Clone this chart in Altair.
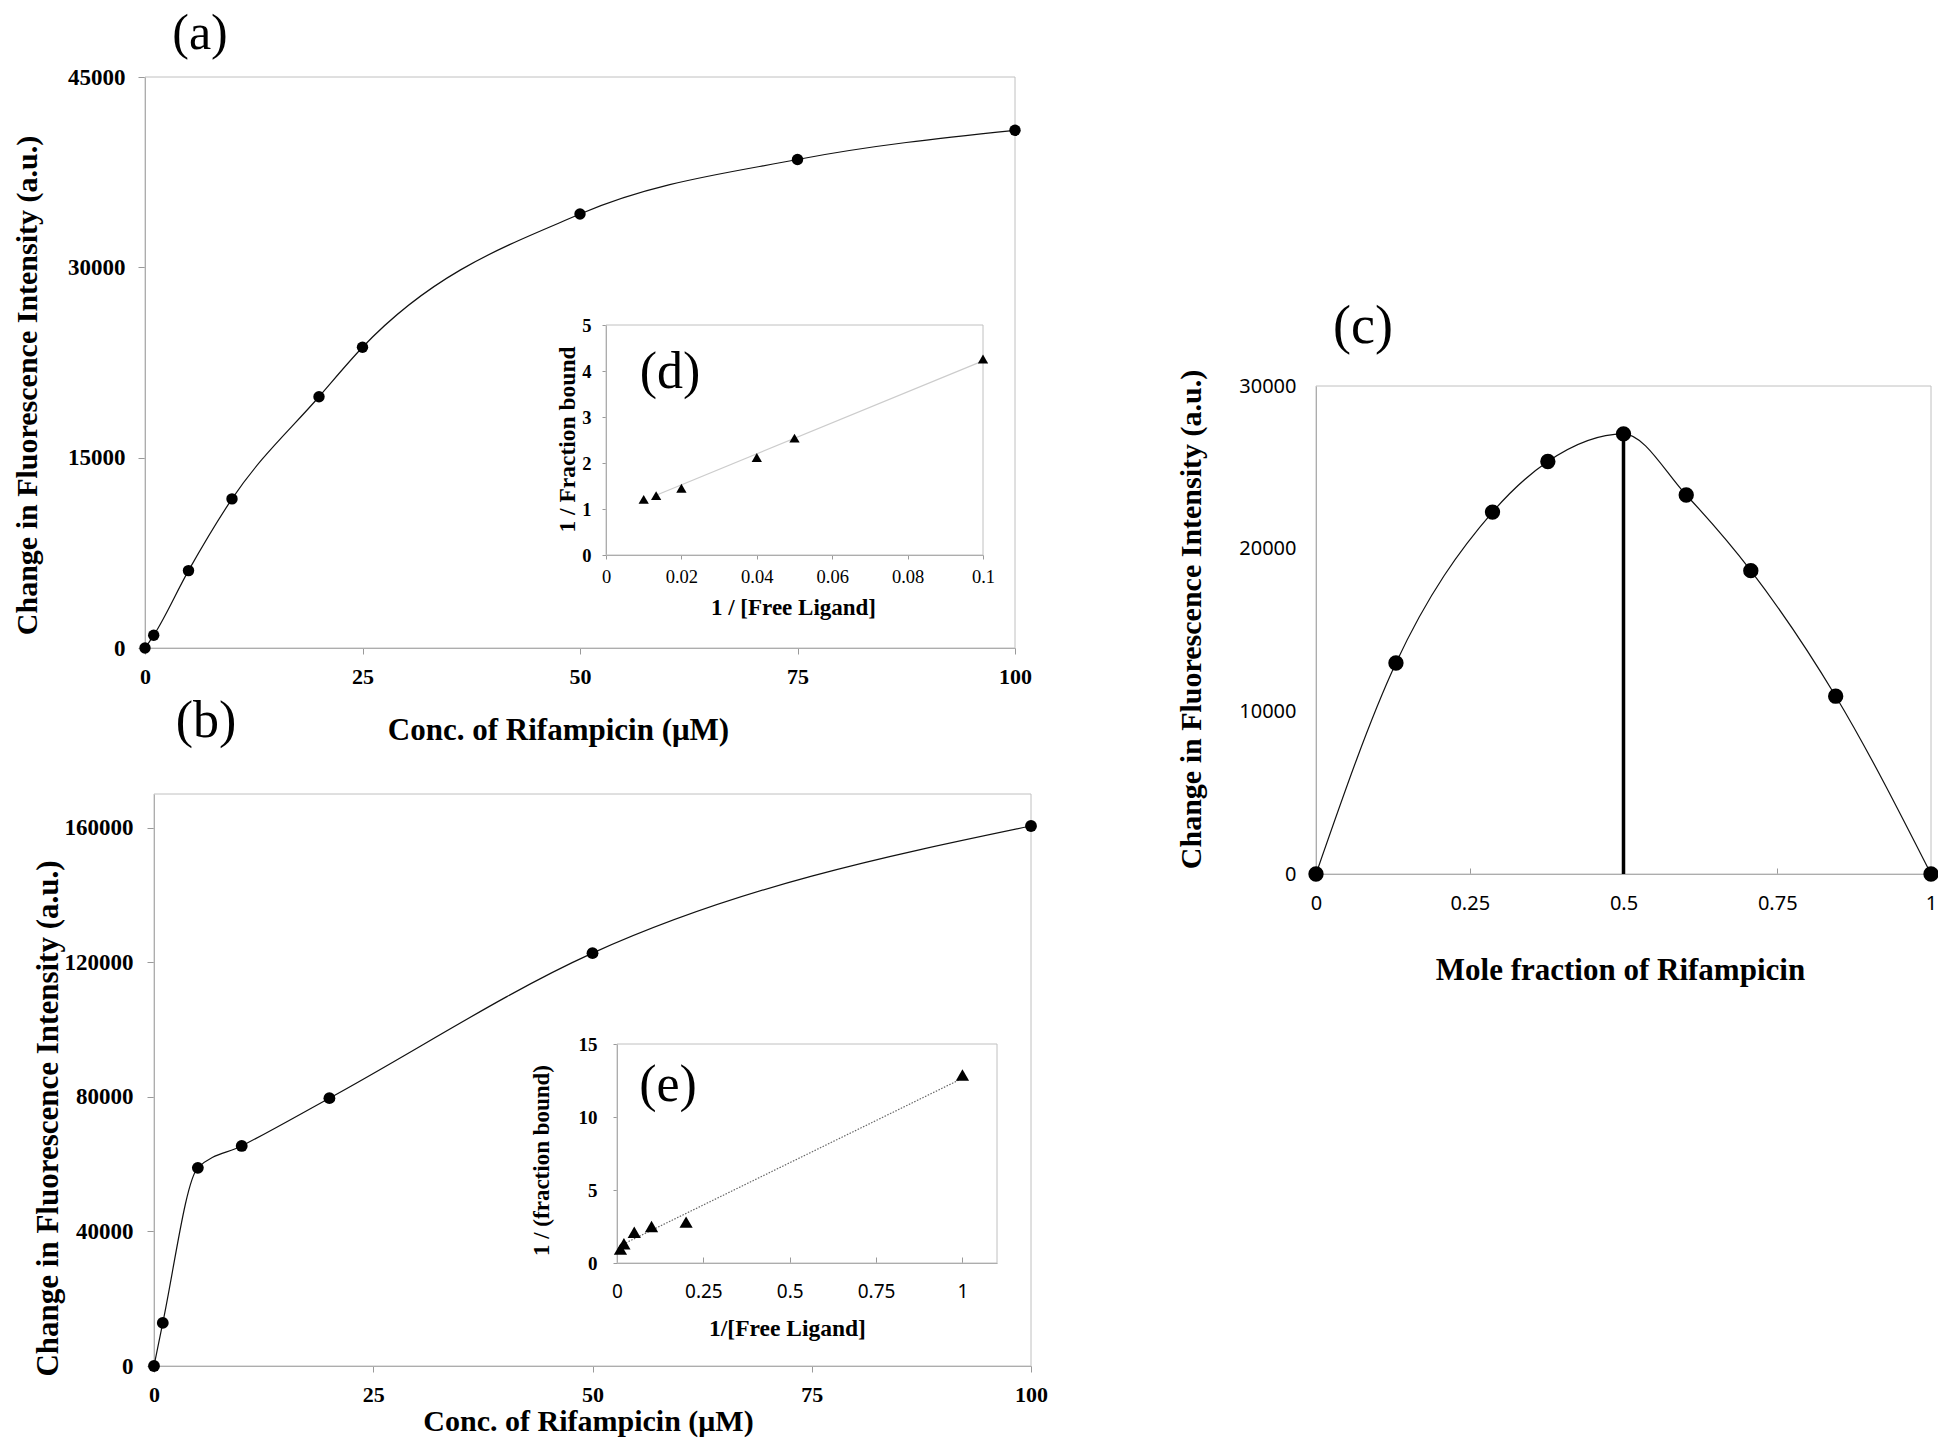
import altair as alt
import pandas as pd

# ---------------- data ----------------
# (a) titration
a_conc = [0, 1, 5, 10, 20, 25, 50, 75, 100]
a_change = [0, 1000, 6100, 11750, 19800, 23700, 34200, 38500, 40800]
# (d) double reciprocal inset of (a)
d_inv_ligand = [0.01, 0.0133, 0.02, 0.04, 0.05, 0.1]
d_inv_bound = [1.21, 1.29, 1.45, 2.12, 2.54, 4.26]
d_fit_x = [0.0133, 0.1]
d_fit_y = [1.30, 4.22]
# (b) titration
b_conc = [0, 1, 5, 10, 20, 50, 100]
b_change = [0, 12800, 58900, 65400, 79600, 122700, 160500]
# (e) double reciprocal inset of (b)
e_inv_ligand = [0.01, 0.02, 0.05, 0.1, 0.2, 1.0]
e_inv_bound = [0.95, 1.32, 2.1, 2.5, 2.8, 12.87]
e_fit_x = [0.01, 1.0]
e_fit_y = [1.2, 12.65]
# (c) Job plot
c_fraction = [0, 0.13, 0.287, 0.377, 0.5, 0.602, 0.707, 0.845, 1]
c_change = [0, 12970, 22250, 25360, 27060, 23300, 18650, 10930, 0]

# axis domains / tick values
a_xdom, a_ydom = [0, 100], [0, 45000]
a_xticks, a_yticks = [0, 25, 50, 75, 100], [0, 15000, 30000, 45000]
d_xdom, d_ydom = [0, 0.1], [0, 5]
d_xticks, d_yticks = [0, 0.02, 0.04, 0.06, 0.08, 0.1], [0, 1, 2, 3, 4, 5]
b_xdom, b_ydom = [0, 100], [0, 170000]
b_xticks, b_yticks = [0, 25, 50, 75, 100], [0, 40000, 80000, 120000, 160000]
e_xdom, e_ydom = [0, 1.1], [0, 15]
e_xticks, e_yticks = [0, 0.25, 0.5, 0.75, 1], [0, 5, 10, 15]
c_xdom, c_ydom = [0, 1], [0, 30000]
c_xticks, c_yticks = [0, 0.25, 0.5, 0.75, 1], [0, 10000, 20000, 30000]

# ---------------- layout (pixels in the view) ----------------
W, H = 1930, 1433
SERIF = "Liberation Serif"
SANS = "Noto Sans"
AX = "#9a9a9a"
FRAME = "#c0c0c0"

BOX_A = (137, 1007, 69, 640)
BOX_D = (598, 975, 317, 547)
BOX_B = (146, 1023, 786, 1358)
BOX_E = (609, 989, 1036, 1255)
BOX_C = (1308, 1923, 378, 866)


def scales(box, xdom, ydom):
    x0, x1, y0, y1 = box
    sx = alt.Scale(domain=xdom, range=[x0, x1], nice=False, zero=False)
    sy = alt.Scale(domain=ydom, range=[y1, y0], nice=False, zero=False)
    return sx, sy


def tick_kw(tick):
    if tick > 0:
        return dict(ticks=True, tickSize=tick, tickColor=AX, tickWidth=1)
    return dict(ticks=False)


def xaxis(box, values, title, title_x, title_dy, lfont, lweight, lsize, tsize, tick, pad, fmt=".2~f"):
    return alt.Axis(
        orient="bottom", offset=box[3] - H, values=values, format=fmt, grid=False,
        labelFont=lfont, labelFontWeight=lweight, labelFontSize=lsize, labelColor="black",
        labelFlush=False, labelOverlap=False, labelPadding=pad,
        domainColor=AX, domainWidth=1,
        title=title, titleFont=SERIF, titleFontWeight="bold", titleFontSize=tsize,
        titleColor="black", titleX=title_x, titleY=title_dy, titleBaseline="middle",
        titleAlign="center", **tick_kw(tick))


def yaxis(box, values, title, title_dx, title_y, lfont, lweight, lsize, tsize, tick, pad, fmt="d"):
    return alt.Axis(
        orient="left", offset=-box[0], values=values, format=fmt, grid=False,
        labelFont=lfont, labelFontWeight=lweight, labelFontSize=lsize, labelColor="black",
        labelFlush=False, labelOverlap=False, labelPadding=pad,
        domainColor=AX, domainWidth=1,
        title=title, titleFont=SERIF, titleFontWeight="bold", titleFontSize=tsize,
        titleColor="black", titleX=title_dx, titleY=title_y, titleBaseline="middle",
        titleAlign="center", titleAngle=270, **tick_kw(tick))


def inner_ticks(box, values):
    # tick marks pointing up into the plot from the bottom edge
    return alt.Axis(orient="top", offset=-box[3], values=values, labels=False, domain=False,
                    grid=False, title=None, ticks=True, tickSize=6, tickColor=AX, tickWidth=1)


def frame(xdom, ydom, sx, sy, xax=None):
    df = pd.DataFrame({"x0": [xdom[0]], "x1": [xdom[1]], "y0": [ydom[0]], "y1": [ydom[1]]})
    xenc = alt.X("x0:Q", scale=sx, axis=xax) if xax is not None else alt.X("x0:Q", scale=sx, axis=None)
    return alt.Chart(df).mark_rect(fillOpacity=0, stroke=FRAME, strokeWidth=1).encode(
        x=xenc, x2="x1:Q",
        y=alt.Y("y0:Q", scale=sy, axis=None), y2="y1:Q")


def curve(xs, ys, sx, sy):
    df = pd.DataFrame({"x": xs, "y": ys})
    return alt.Chart(df).mark_line(color="#111111", strokeWidth=1.2, interpolate="monotone").encode(
        x=alt.X("x:Q", scale=sx, axis=None), y=alt.Y("y:Q", scale=sy, axis=None))


def fitline(xs, ys, sx, sy, color, dash):
    df = pd.DataFrame({"x": xs, "y": ys})
    kw = dict(color=color, strokeWidth=1.2)
    if dash:
        kw["strokeDash"] = dash
    return alt.Chart(df).mark_line(**kw).encode(
        x=alt.X("x:Q", scale=sx, axis=None), y=alt.Y("y:Q", scale=sy, axis=None))


def points(xs, ys, sx, sy, ax_x, ax_y, shape, size):
    df = pd.DataFrame({"x": xs, "y": ys})
    return alt.Chart(df).mark_point(shape=shape, filled=True, size=size, color="black", opacity=1).encode(
        x=alt.X("x:Q", scale=sx, axis=ax_x), y=alt.Y("y:Q", scale=sy, axis=ax_y))


def label(txt, px, py, size):
    df = pd.DataFrame({"t": [txt]})
    return alt.Chart(df).mark_text(font=SERIF, fontSize=size, color="black",
                                   align="center", baseline="middle").encode(
        text="t:N", x=alt.value(px), y=alt.value(py))


TITLE_FI = "Change in Fluorescence Intensity (a.u.)"
layers = []

# ---- panel (a)
sxa, sya = scales(BOX_A, a_xdom, a_ydom)
layers += [
    frame(a_xdom, a_ydom, sxa, sya),
    curve(a_conc, a_change, sxa, sya),
    points(a_conc, a_change, sxa, sya,
           xaxis(BOX_A, a_xticks, "Conc. of Rifampicin (μM)", 550, 82, SERIF, "bold", 22, 31, 6, 12, "d"),
           yaxis(BOX_A, a_yticks, TITLE_FI, -118, 377, SERIF, "bold", 23, 30, 7, 13),
           "circle", 130),
]

# ---- panel (d)
sxd, syd = scales(BOX_D, d_xdom, d_ydom)
layers += [
    frame(d_xdom, d_ydom, sxd, syd),
    fitline(d_fit_x, d_fit_y, sxd, syd, "#cccccc", None),
    points(d_inv_ligand, d_inv_bound, sxd, syd,
           xaxis(BOX_D, d_xticks, "1 / [Free Ligand]", 785, 52, SERIF, "normal", 18.5, 23, 4, 8),
           yaxis(BOX_D, d_yticks, "1 / Fraction bound", -39, 431, SERIF, "bold", 18.5, 23.5, 4, 11),
           "triangle-up", 106),
]

# ---- panel (b)
sxb, syb = scales(BOX_B, b_xdom, b_ydom)
layers += [
    frame(b_xdom, b_ydom, sxb, syb),
    curve(b_conc, b_change, sxb, syb),
    points(b_conc, b_change, sxb, syb,
           xaxis(BOX_B, b_xticks, "Conc. of Rifampicin  (μM)", 580, 55, SERIF, "bold", 22, 30, 6, 12, "d"),
           yaxis(BOX_B, b_yticks, TITLE_FI, -106, 1110, SERIF, "bold", 23, 31, 7, 14),
           "circle", 140),
]

# ---- panel (e)
sxe, sye = scales(BOX_E, e_xdom, e_ydom)
layers += [
    frame(e_xdom, e_ydom, sxe, sye, inner_ticks(BOX_E, e_xticks)),
    fitline(e_fit_x, e_fit_y, sxe, sye, "#666666", [1.5, 1.5]),
    points(e_inv_ligand, e_inv_bound, sxe, sye,
           xaxis(BOX_E, e_xticks, "1/[Free Ligand]", 779, 65, SANS, "normal", 19, 23.5, 0, 19),
           yaxis(BOX_E, e_yticks, "1 / (fraction bound)", -76, 1152, SERIF, "bold", 19, 23, 4, 16),
           "triangle-up", 175),
]

# ---- panel (c)
sxc, syc = scales(BOX_C, c_xdom, c_ydom)
peak_i = c_change.index(max(c_change))
rule_df = pd.DataFrame({"x": [c_fraction[peak_i]], "y0": [0], "y1": [c_change[peak_i]]})
rule_c = alt.Chart(rule_df).mark_rule(color="black", strokeWidth=3.5).encode(
    x=alt.X("x:Q", scale=sxc, axis=None),
    y=alt.Y("y0:Q", scale=syc, axis=None), y2="y1:Q")
layers += [
    frame(c_xdom, c_ydom, sxc, syc, inner_ticks(BOX_C, c_xticks)),
    curve(c_fraction, c_change, sxc, syc),
    rule_c,
    points(c_fraction, c_change, sxc, syc,
           xaxis(BOX_C, c_xticks, "Mole fraction of Rifampicin", 1612, 96, SANS, "normal", 20, 31, 0, 19),
           yaxis(BOX_C, c_yticks, TITLE_FI, -125, 611, SANS, "normal", 20, 30, 0, 20),
           "circle", 235),
]

layers += [
    label("(a)", 192, 26, 50),
    label("(b)", 198, 713, 52),
    label("(c)", 1355, 319, 54),
    label("(d)", 662, 364, 52),
    label("(e)", 660, 1077, 52),
]

chart = alt.layer(*layers).resolve_scale(x="independent", y="independent").resolve_axis(
    x="independent", y="independent"
).properties(
    width=W, height=H, padding=0,
    autosize=alt.AutoSizeParams(type="none"),
    background="white",
).configure_view(stroke=None)

chart.save("out.html", embed_options={"renderer": "svg", "actions": False})
